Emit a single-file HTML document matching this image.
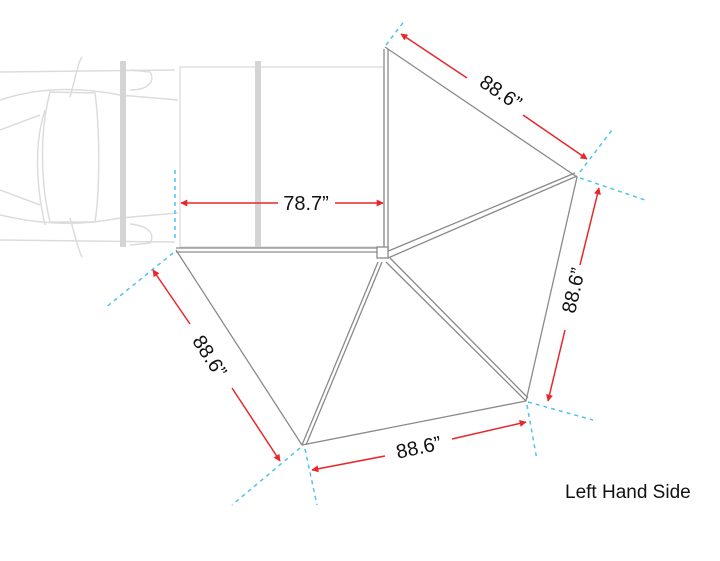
<!DOCTYPE html>
<html><head><meta charset="utf-8"><style>
html,body{margin:0;padding:0;background:#fff;}
svg{display:block}
text{font-family:"Liberation Sans",sans-serif;fill:#111;}
</style></head><body>
<svg width="720" height="561" viewBox="0 0 720 561" xmlns="http://www.w3.org/2000/svg">
<defs>
<marker id="a" viewBox="0 0 10 10" refX="9" refY="5" markerWidth="9" markerHeight="7" orient="auto-start-reverse" markerUnits="userSpaceOnUse"><path d="M0,0 L10,5 L0,10 z" fill="#e8262b"/></marker>
</defs>
<!-- car -->
<g fill="none" stroke="#dcdcdc" stroke-width="1.5">
<path d="M0,72 L175,70"/><path d="M0,100 C30,90 70,85 120,95 L178,100"/>
<path d="M0,240 L175,242"/><path d="M0,215 C30,222 70,228 120,218 L178,213"/>
<path d="M45,110 C35,140 35,180 45,225"/>
<path d="M50,92 L95,93 C100,130 100,190 95,222 L50,222 C40,180 40,130 50,92 z"/>
<path d="M70,97 C75,80 78,62 82,57"/><path d="M70,218 C75,235 78,250 82,257"/>
<path d="M130,70 L150,72 C155,80 150,90 130,90"/>
<path d="M130,245 L150,243 C155,235 150,226 130,224"/>
<path d="M0,130 L40,115"/><path d="M0,190 L40,205"/>
</g>
<rect x="120" y="61" width="6" height="186" fill="#d4d4d4"/>
<rect x="180" y="67" width="204" height="180" fill="#fff" stroke="#d8d8d8" stroke-width="1.2"/>
<rect x="255" y="61" width="6" height="186" fill="#d4d4d4"/>
<!-- awning -->
<g fill="none" stroke="#8a8a8a" stroke-width="1.3">
<path d="M385,47 L577,177 L526,401 L302,445 L176,250"/>
<path d="M384,49 L384,250 M388,49 L388,250"/>
<path d="M176,248 L378,248 M176,252 L378,252"/>
<path d="M388,258 L577,176 M386,252 L575,173"/>
<path d="M378,262 L302,445 M382,262 L306,445"/>
<path d="M386,262 L526,401 M390,258 L528,398"/>
<rect x="377" y="247" width="11" height="11" fill="#fff"/>
</g>
<!-- blue dashed -->
<g stroke="#4fc3ef" stroke-width="1.5" stroke-dasharray="4,4" fill="none">
<path d="M386,45 L405,20"/>
<path d="M580,172 L612,130"/><path d="M580,178 L645,200"/>
<path d="M528,402 L593,420"/><path d="M527,405 L537,460"/>
<path d="M300,448 L232,505"/><path d="M305,449 L317,505"/>
<path d="M173,253 L105,308"/><path d="M175,170 L175,240"/>
</g>
<!-- red dims -->
<g stroke="#e8262b" stroke-width="1.5" fill="none">
<path d="M278,203 L181,203" marker-end="url(#a)"/><path d="M335,203 L383,203" marker-end="url(#a)"/>
<path d="M467,78 L401,34" marker-end="url(#a)"/><path d="M523,115 L587,159" marker-end="url(#a)"/>
<path d="M580,265 L599,188" marker-end="url(#a)"/><path d="M565,330 L548,401" marker-end="url(#a)"/>
<path d="M190,324 L153,270" marker-end="url(#a)"/><path d="M232,388 L280,461" marker-end="url(#a)"/>
<path d="M385,456 L312,470" marker-end="url(#a)"/><path d="M452,439 L526,422" marker-end="url(#a)"/>
</g>
<g font-size="20">
<text x="306" y="210" text-anchor="middle">78.7”</text>
<text transform="translate(497,98) rotate(34)" text-anchor="middle">88.6”</text>
<text transform="translate(580,292) rotate(-77)" text-anchor="middle">88.6”</text>
<text transform="translate(204,360) rotate(57)" text-anchor="middle">88.6”</text>
<text transform="translate(420,454) rotate(-12)" text-anchor="middle">88.6”</text>
</g>
<text x="565" y="498" font-size="19">Left Hand Side</text>
</svg>
</body></html>
